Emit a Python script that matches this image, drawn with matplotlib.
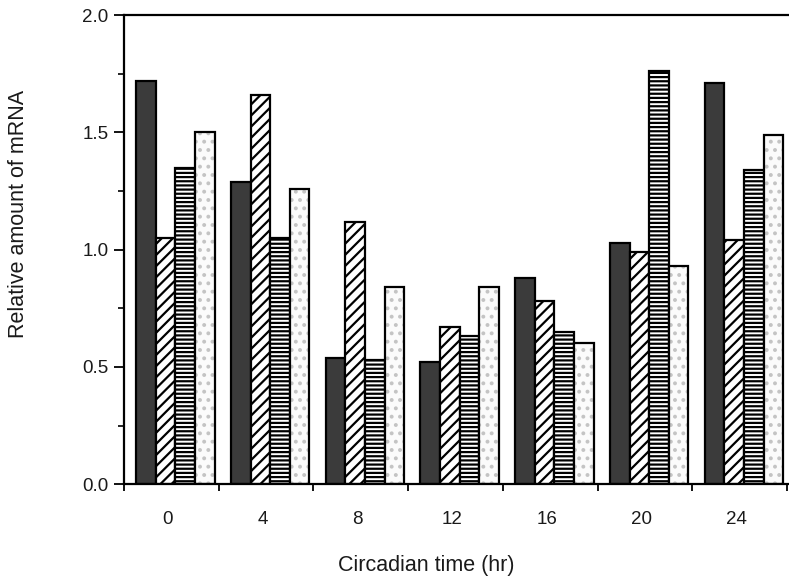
import matplotlib
matplotlib.use('Agg')
import matplotlib.pyplot as plt
import numpy as np

# circadian time groups
times = ['0', '4', '8', '12', '16', '20', '24']

# relative amount of mRNA, four series per time point
dark = [1.72, 1.29, 0.54, 0.52, 0.88, 1.03, 1.71]
diagonal = [1.05, 1.66, 1.12, 0.67, 0.78, 0.99, 1.04]
horizontal = [1.35, 1.05, 0.53, 0.63, 0.65, 1.76, 1.34]
stipple = [1.50, 1.26, 0.84, 0.84, 0.60, 0.93, 1.49]

plt.rcParams['font.family'] = ['Liberation Sans', 'DejaVu Sans']
plt.rcParams['hatch.linewidth'] = 1.6

fig = plt.figure(figsize=(7.89, 5.84), dpi=100)
ax = fig.add_axes([0.157, 0.171, 0.843, 0.803])

x = np.arange(len(times))
width = 0.207
start = 0.13
txt = '#1a1a1a'

# (face, hatch, hatch colour)
styles = [
    ('#3b3b3b', None, 'black'),
    ('white', '///', 'black'),
    ('white', '----', 'black'),
    ('#fbfbfb', '..', '#c4c4c4'),
]

for j, (vals, (face, hatch, hcol)) in enumerate(zip([dark, diagonal, horizontal, stipple], styles)):
    pos = x + start + j * width
    # fill + hatch
    ax.bar(pos, vals, width, align='edge', color=face, hatch=hatch,
           edgecolor=hcol, linewidth=0)
    # black outline
    ax.bar(pos, vals, width, align='edge', fill=False,
           edgecolor='black', linewidth=1.6)

ax.set_xlim(0, 7.02)
ax.set_ylim(0, 2.0)

ax.set_yticks([0.0, 0.5, 1.0, 1.5, 2.0])
ax.set_yticklabels(['0.0', '0.5', '1.0', '1.5', '2.0'])
ax.set_yticks([0.25, 0.75, 1.25, 1.75], minor=True)
ax.tick_params(axis='y', which='major', length=7, width=1.3, labelsize=13.5,
               pad=4, labelcolor=txt)
ax.tick_params(axis='y', which='minor', length=4, width=1.2)

# boundary ticks without labels, labels at group centres
ax.set_xticks(np.arange(0, 8))
ax.set_xticklabels([''] * 8)
ax.set_xticks(x + 0.465, times, minor=True)
ax.tick_params(axis='x', which='major', length=5, width=1.3)
ax.tick_params(axis='x', which='minor', length=0, labelsize=13.5, pad=19,
               labelcolor=txt)

for side in ['left', 'bottom', 'top']:
    ax.spines[side].set_linewidth(1.6)
ax.spines['right'].set_visible(False)

fig.text(19 / 789, 1 - 214 / 584, 'Relative amount of mRNA', rotation=90,
         ha='center', va='center', fontsize=15.5, color=txt)
fig.text(426 / 789, 1 - 566 / 584, 'Circadian time (hr)',
         ha='center', va='center', fontsize=15.5, color=txt)

fig.savefig('out.png', dpi=100)
